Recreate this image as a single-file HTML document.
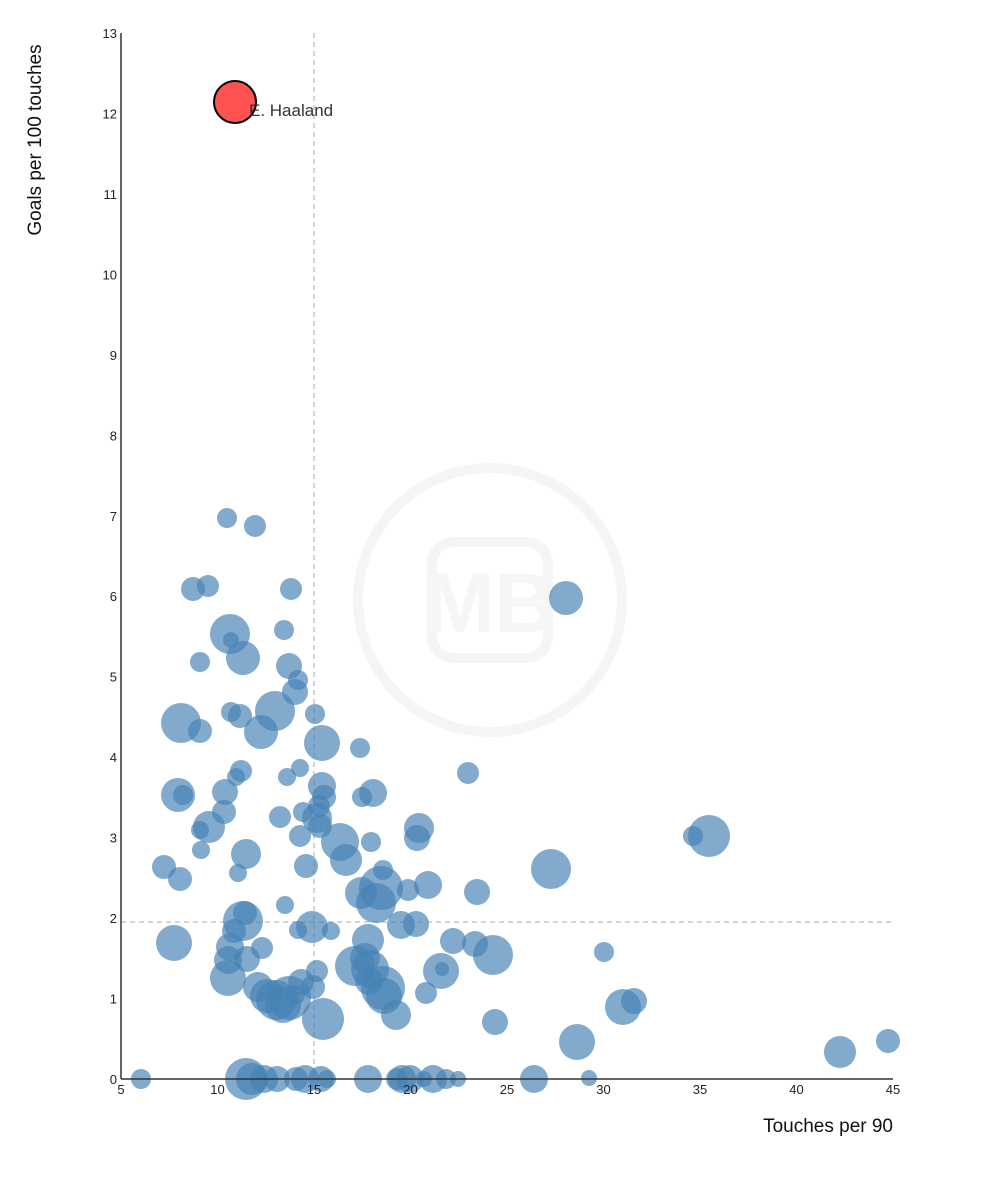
<!DOCTYPE html>
<html><head><meta charset="utf-8"><style>body{margin:0;background:#fff}svg{display:block;font-family:"Liberation Sans",sans-serif}</style></head><body>
<svg width="981" height="1200" viewBox="0 0 981 1200">
<g fill="none" stroke="#f5f5f5" stroke-width="10">
<circle cx="490" cy="600" r="132"/>
<rect x="432" y="542" width="116" height="116" rx="22"/>
</g>
<text x="490" y="632" font-size="84" font-weight="bold" fill="#f6f6f6" text-anchor="middle">MB</text>
<g stroke="#aaa" stroke-dasharray="5,4" stroke-width="1">
<line x1="314" y1="33" x2="314" y2="1079"/>
<line x1="121" y1="922" x2="893" y2="922"/>
</g>
<g fill="#4682b4" fill-opacity="0.68" id="b"></g>
<circle cx="235" cy="102" r="21" fill="#ff5252" stroke="#000" stroke-width="2"/>
<text x="249" y="116" font-size="17" fill="#333">E. Haaland</text>
<g stroke="#333" stroke-width="1.5"><line x1="121" y1="33" x2="121" y2="1079"/><line x1="121" y1="1079" x2="893" y2="1079"/></g>
<g font-size="13" fill="#222" text-anchor="end" id="yt"></g>
<g font-size="13" fill="#222" text-anchor="middle" id="xt"></g>
<text x="893" y="1132" font-size="19" text-anchor="end" fill="#111">Touches per 90</text>
<text transform="translate(41,140) rotate(-90)" font-size="19" text-anchor="middle" fill="#111">Goals per 100 touches</text>
</svg>
<script>
var d=[[227,518,10],[255,526,11],[193,589,12],[208,586,11],[291,589,11],[230,634,20],[231,640,8],[243,658,17],[284,630,10],[200,662,10],[289,666,13],[298,680,10],[295,692,13],[231,712,10],[240,716,12],[181,723,20],[200,731,12],[261,732,17],[275,711,20],[315,714,10],[322,743,18],[360,748,10],[241,771,11],[236,777,9],[287,777,9],[300,768,9],[225,792,13],[183,795,10],[178,795,17],[224,812,12],[209,827,16],[200,830,9],[322,786,14],[324,797,12],[319,806,11],[373,793,14],[362,797,10],[317,818,15],[280,817,11],[303,812,10],[300,836,11],[320,826,12],[340,842,19],[346,860,16],[371,842,10],[419,828,15],[417,838,13],[246,854,15],[201,850,9],[238,873,9],[164,867,12],[180,879,12],[306,866,12],[383,870,10],[381,888,22],[376,903,20],[408,890,11],[428,885,14],[477,892,13],[361,893,16],[566,598,17],[551,869,20],[693,836,10],[709,836,21],[468,773,11],[285,905,9],[243,921,20],[245,913,12],[234,931,12],[174,943,18],[230,947,14],[262,948,11],[247,959,13],[228,960,14],[228,978,18],[312,927,16],[298,930,9],[331,931,9],[368,940,16],[365,958,15],[370,969,19],[401,925,14],[416,924,13],[453,941,13],[475,944,13],[493,955,20],[441,971,18],[442,969,7],[426,993,11],[396,1015,15],[383,988,22],[384,996,18],[355,966,20],[369,981,14],[323,1019,21],[317,971,11],[313,987,12],[295,995,10],[267,996,17],[258,987,15],[289,998,22],[283,1005,18],[301,982,13],[276,1000,20],[495,1022,13],[604,952,10],[623,1007,18],[634,1001,13],[577,1042,18],[840,1052,16],[888,1041,12],[589,1078,8],[141,1079,10],[246,1079,21],[252,1079,16],[264,1079,14],[277,1079,13],[296,1079,12],[305,1079,14],[321,1079,13],[327,1079,9],[368,1079,14],[397,1079,11],[402,1079,14],[410,1079,14],[424,1079,8],[433,1079,14],[446,1079,10],[458,1079,8],[534,1079,14]];
var ns="http://www.w3.org/2000/svg",g=document.getElementById("b");
d.forEach(function(c){var e=document.createElementNS(ns,"circle");e.setAttribute("cx",c[0]);e.setAttribute("cy",c[1]);e.setAttribute("r",c[2]);g.appendChild(e);});
var yt=document.getElementById("yt");for(var i=0;i<=13;i++){var t=document.createElementNS(ns,"text");t.setAttribute("x",117);t.setAttribute("y",1079-i*80.46+5);t.textContent=i;yt.appendChild(t);}
var xt=document.getElementById("xt");for(var v=5;v<=45;v+=5){var t=document.createElementNS(ns,"text");t.setAttribute("x",121+(v-5)*19.3);t.setAttribute("y",1094);t.textContent=v;xt.appendChild(t);}
</script>
</body></html>
